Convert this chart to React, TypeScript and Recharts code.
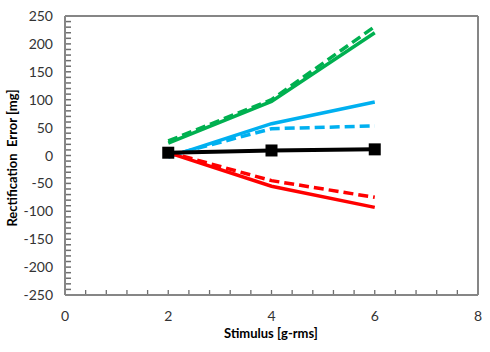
import React from 'react';
import { LineChart, Line, XAxis, YAxis, ReferenceLine } from 'recharts';

const stimulus = [2, 4, 6];
const greenSolid = [22, 97, 220];
const greenDashed = [26, 100, 231];
const blueSolid = [-3, 57, 96];
const blueDashed = [-1, 48, 53];
const blackLine = [5, 9, 11];
const redSolid = [5, -55, -93];
const redDashed = [6, -45, -75];

const xMajorTicks = [0, 2, 4, 6, 8];
const yMajorTicks = [-250, -200, -150, -100, -50, 0, 50, 100, 150, 200, 250];
const xMinorPerMajor = 5;
const yMinorPerMajor = 5;

const xTicks: number[] = [];
for (let i = 0; i < xMajorTicks.length - 1; i++) {
  const a = xMajorTicks[i], b = xMajorTicks[i + 1];
  for (let k = 0; k < xMinorPerMajor; k++) xTicks.push(+(a + ((b - a) * k) / xMinorPerMajor).toFixed(4));
}
xTicks.push(xMajorTicks[xMajorTicks.length - 1]);
const yTicks: number[] = [];
for (let i = 0; i < yMajorTicks.length - 1; i++) {
  const a = yMajorTicks[i], b = yMajorTicks[i + 1];
  for (let k = 0; k < yMinorPerMajor; k++) yTicks.push(+(a + ((b - a) * k) / yMinorPerMajor).toFixed(4));
}
yTicks.push(yMajorTicks[yMajorTicks.length - 1]);

const data = stimulus.map((x, i) => ({
  x,
  gs: greenSolid[i],
  gd: greenDashed[i],
  bs: blueSolid[i],
  bd: blueDashed[i],
  k: blackLine[i],
  rs: redSolid[i],
  rd: redDashed[i],
}));

const FONT = 'Lato, "Open Sans", sans-serif';
const AXIS = '#868686';
const TICK = '#6e6e6e';
const LABEL = '#333333';

const XTick = (props: any) => {
  const { x, y, payload } = props;
  const v = payload.value;
  const major = xMajorTicks.includes(v);
  return (
    <g>
      {v !== 0 && v !== 8 && <line x1={x} x2={x} y1={y - 1} y2={y - 5} stroke={TICK} strokeWidth={1.3} />}
      {major && (
        <text x={x} y={y + 26} textAnchor="middle" fontSize={14} fill={LABEL} fontFamily={FONT}>
          {v}
        </text>
      )}
    </g>
  );
};

const YTick = (props: any) => {
  const { x, y, payload } = props;
  const v = payload.value;
  const major = yMajorTicks.includes(v);
  return (
    <g>
      {v !== -250 && v !== 250 && (
        <line x1={x + 1} x2={x + 6} y1={y} y2={y} stroke={TICK} strokeWidth={1.5} />
      )}
      {major && (
        <text x={x - 12} y={y + 5} textAnchor="end" fontSize={14} fill={LABEL} fontFamily={FONT}>
          {v}
        </text>
      )}
    </g>
  );
};

const SquareDot = (props: any) => {
  const { cx, cy } = props;
  if (cx == null || cy == null) return null;
  return <rect x={cx - 6} y={cy - 6} width={12} height={12} fill="#000" />;
};

export default function App() {
  return (
    <div style={{ position: 'absolute', left: 0, top: 0, width: 490, height: 352, background: '#fff' }}>
      <LineChart width={490} height={352} data={data} margin={{ top: 16, right: 12, left: 0, bottom: 0 }}>
        <ReferenceLine y={250} stroke={AXIS} strokeWidth={2} />
        <ReferenceLine x={8} stroke={AXIS} strokeWidth={2} />
        <XAxis
          dataKey="x"
          type="number"
          domain={[0, 8]}
          ticks={xTicks}
          interval={0}
          tickSize={0}
          tickMargin={0}
          tickLine={false}
          tick={<XTick />}
          height={57}
          stroke={AXIS}
          strokeWidth={2}
          allowDataOverflow
        />
        <YAxis
          type="number"
          domain={[-250, 250]}
          ticks={yTicks}
          interval={0}
          tickSize={0}
          tickMargin={0}
          tickLine={false}
          tick={<YTick />}
          width={65}
          axisLine={{ stroke: AXIS, strokeWidth: 2 }}
          allowDataOverflow
        />
        <Line dataKey="gs" stroke="#00B050" strokeWidth={3.5} dot={false} isAnimationActive={false} />
        <Line dataKey="gd" stroke="#00B050" strokeWidth={3.5} strokeDasharray="10 5" dot={false} isAnimationActive={false} />
        <Line dataKey="bs" stroke="#00B0F0" strokeWidth={3.5} dot={false} isAnimationActive={false} />
        <Line dataKey="bd" stroke="#00B0F0" strokeWidth={3.5} strokeDasharray="10 5" dot={false} isAnimationActive={false} />
        <Line dataKey="rs" stroke="#FF0000" strokeWidth={3.5} dot={false} isAnimationActive={false} />
        <Line dataKey="rd" stroke="#FF0000" strokeWidth={3.5} strokeDasharray="10 5" dot={false} isAnimationActive={false} />
        <Line dataKey="k" stroke="#000000" strokeWidth={4} dot={<SquareDot />} isAnimationActive={false} />
        <text x={271} y={338} textAnchor="middle" fontSize={13} fontWeight="bold" fill="#000" fontFamily={FONT}>
          Stimulus [g-rms]
        </text>
        <text
          x={17}
          y={158}
          textAnchor="middle"
          fontSize={13}
          fontWeight="bold"
          fill="#000"
          fontFamily={FONT}
          transform="rotate(-90 17 158)"
          style={{ whiteSpace: 'pre' }}
        >
          {'Rectification  Error [mg]'}
        </text>
      </LineChart>
    </div>
  );
}
